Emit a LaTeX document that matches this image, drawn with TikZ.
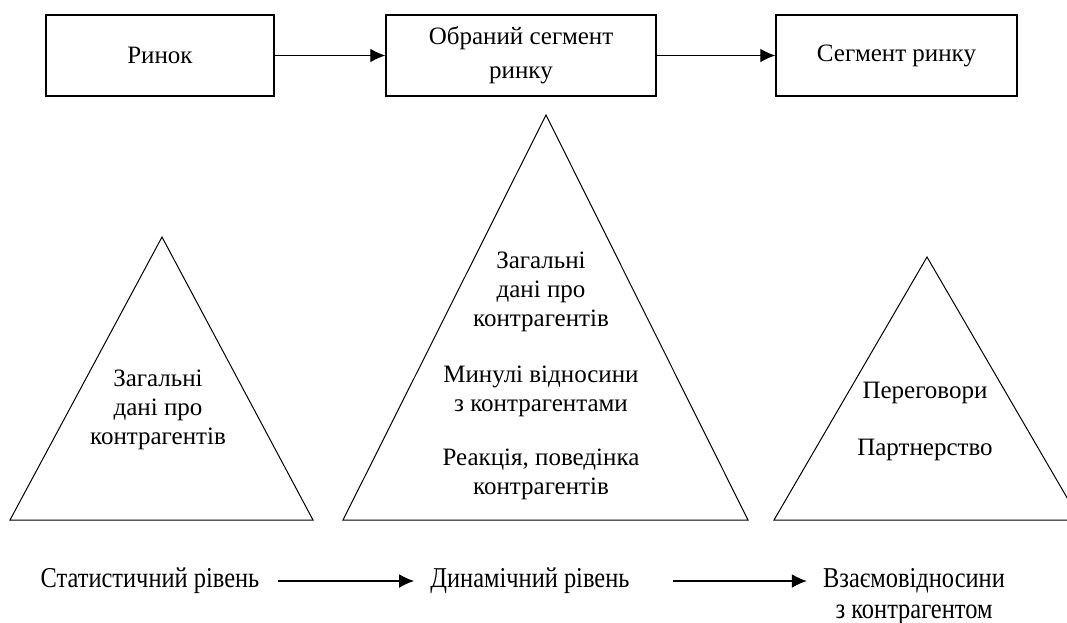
\documentclass[tikz,border=0pt]{standalone}
\usepackage{fontspec}
\setmainfont{Liberation Serif}
\newfontfamily\narrowfont[FakeStretch=0.85]{Liberation Serif}
\usetikzlibrary{arrows.meta,positioning}

\tikzset{
  box/.style={draw, line width=0.55pt, minimum height=32.4pt, align=center},
  level/.style={font=\narrowfont\fontsize{11.5}{13}\selectfont, align=center},
  flow/.style={-{Latex[length=6pt,width=5.5pt]}, line width=0.5pt}
}

\begin{document}
\begin{tikzpicture}[x=0.4pt, y=-0.4pt, font=\fontsize{10}{11.6}\selectfont]
		\useasboundingbox (0, 0) rectangle (1067, 622);
		\clip (0, 0) rectangle (1067, 622);

		% upper row
		\path (160, 55.5)  node[box, minimum width=91.2pt]  (rynok)   {Ринок}
		      (521, 55.5)  node[box, minimum width=108pt, font=\fontsize{10}{13.6}\selectfont] (obranyi) {Обраний сегмент\\ринку}
		      (896.5, 55.5) node[box, minimum width=96.4pt] (segment) {Сегмент ринку};

		\draw[flow] (rynok) -- (obranyi);
		\draw[flow] (obranyi) -- (segment);

		% triangles
		\draw[thin] (162, 237) -- (313, 520) -- (10, 520) -- cycle;
		\draw[thin] (546, 115) -- (748, 520) -- (343, 520) -- cycle;
		\draw[thin] (927, 257) -- (1080, 520) -- (774, 520) -- cycle;

		\path (158, 410)  node[align=center] (statdata) {Загальні\\дані про\\контрагентів}
		      (541, 292)  node[align=center] (dyndata)  {Загальні\\дані про\\контрагентів}
		      (541, 391)  node[align=center] (past)     {Минулі відносини\\з контрагентами}
		      (541, 474)  node[align=center] (react)    {Реакція, поведінка\\контрагентів}
		      (925, 393)  node (talks)   {Переговори}
		      (925, 450)  node (partner) {Партнерство};

		% levels
		\path (150, 581)  node[level] (stat)   {Статистичний рівень}
		      (530, 581)  node[level] (dyn)    {Динамічний рівень}
		      (914, 581)  node[level] (vzaem)  {Взаємовідносини};
		\node[level, below=-2.5pt of vzaem] (kontr) {з контрагентом};

		\draw[flow, shorten <=4pt, shorten >=3pt] (stat) -- (dyn);
		\draw[flow, shorten <=14pt, shorten >=3pt] (dyn) -- (vzaem);
	\end{tikzpicture}
\end{document}
